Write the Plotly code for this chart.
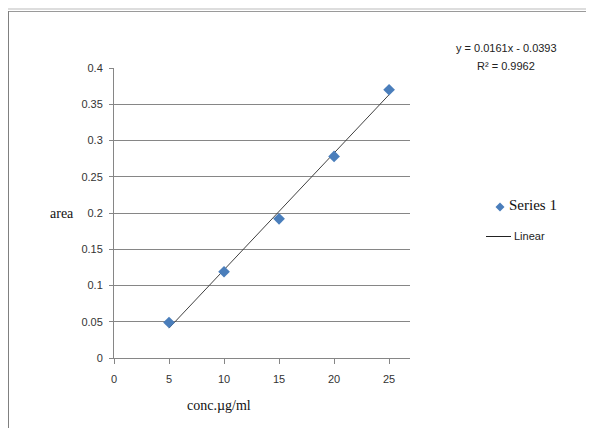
import plotly.graph_objects as go

# Data
conc = [5, 10, 15, 20, 25]
area = [0.049, 0.119, 0.192, 0.278, 0.370]
fit_slope = 0.0161
fit_intercept = -0.0393
x_ticks = [0, 5, 10, 15, 20, 25]
y_ticks = [0, 0.05, 0.1, 0.15, 0.2, 0.25, 0.3, 0.35, 0.4]
y_tick_text = ["0", "0.05", "0.1", "0.15", "0.2", "0.25", "0.3", "0.35", "0.4"]
equation_text = "y = 0.0161x - 0.0393"
r2_text = "R² = 0.9962"

OFF = 8  # page body margin
W, H = 594 - OFF, 428 - OFF
# plot area in page pixels
PL, PR, PT, PB = 114, 410, 68, 358
L, R, T, B = PL - OFF, PR - OFF, PT - OFF, PB - OFF


def px(x):
    return (x - PL) / (PR - PL)


def py(y):
    return (PB - y) / (PB - PT)


trend_x = [min(conc), max(conc)]
trend_y = [fit_slope * v + fit_intercept for v in trend_x]

fig = go.Figure()
fig.add_trace(go.Scatter(x=trend_x, y=trend_y, mode="lines",
                         line=dict(color="#404040", width=1), showlegend=False,
                         hoverinfo="skip"))
fig.add_trace(go.Scatter(x=conc, y=area, mode="markers",
                         marker=dict(symbol="diamond", size=9, color="#4A7EBB",
                                     line=dict(color="#4A7EBB", width=0)),
                         showlegend=False, cliponaxis=False))

tick_font = dict(family="Liberation Sans, Arial, sans-serif", size=11, color="#333333")
serif = dict(family="Liberation Serif, Times New Roman, serif", size=14, color="#111111")

fig.update_layout(
    width=W, height=H,
    margin=dict(l=L, r=W - R, t=T, b=H - B),
    paper_bgcolor="white", plot_bgcolor="white",
    xaxis=dict(range=[0, 26.9], tickvals=x_ticks, ticktext=[str(v) for v in x_ticks],
               showgrid=False, zeroline=False, showline=True, linecolor="#868686",
               linewidth=1, ticks="outside", ticklen=5, tickcolor="#868686",
               tickfont=tick_font, ticklabelstandoff=6, fixedrange=True),
    yaxis=dict(range=[0, 0.4], tickvals=y_ticks, ticktext=y_tick_text,
               showgrid=True, gridcolor="#868686", gridwidth=1, zeroline=False,
               showline=True, linecolor="#868686", linewidth=1, ticks="outside",
               ticklen=4, tickcolor="#868686", tickfont=tick_font,
               ticklabelstandoff=4, fixedrange=True),
    shapes=[
        dict(type="line", xref="paper", yref="paper", x0=px(8), x1=px(594), y0=py(9), y1=py(9),
             line=dict(color="#dddddd", width=2)),
        dict(type="line", xref="paper", yref="paper", x0=px(8), x1=px(594), y0=py(11.5), y1=py(11.5),
             line=dict(color="#9a9a9a", width=1)),
        dict(type="line", xref="paper", yref="paper", x0=px(8.5), x1=px(8.5), y0=py(11), y1=py(428),
             line=dict(color="#808080", width=1)),
        # legend entries
        dict(type="path", xref="paper", yref="paper",
             path=f"M {px(500)},{py(202.5)} L {px(504.5)},{py(207)} L {px(500)},{py(211.5)} L {px(495.5)},{py(207)} Z",
             fillcolor="#4A7EBB", line=dict(width=0)),
        dict(type="line", xref="paper", yref="paper", x0=px(486), x1=px(511), y0=py(236.5), y1=py(236.5),
             line=dict(color="#222222", width=1)),
    ],
    annotations=[
        dict(text="area", xref="paper", yref="paper", x=px(62), y=py(213), showarrow=False,
             xanchor="center", yanchor="middle", font=serif),
        dict(text="conc.µg/ml", xref="paper", yref="paper", x=px(219), y=py(405), showarrow=False,
             xanchor="center", yanchor="middle", font=serif),
        dict(text=equation_text, xref="paper", yref="paper", x=px(506), y=py(48), showarrow=False,
             xanchor="center", yanchor="middle", font=dict(family="Liberation Sans, Arial", size=11, color="#222222")),
        dict(text=r2_text, xref="paper", yref="paper", x=px(506), y=py(66), showarrow=False,
             xanchor="center", yanchor="middle", font=dict(family="Liberation Sans, Arial", size=11, color="#222222")),
        dict(text="Series 1", xref="paper", yref="paper", x=px(507), y=py(205), showarrow=False,
             xanchor="left", yanchor="middle", font=dict(family="Liberation Serif, Times New Roman, serif", size=15, color="#111111")),
        dict(text="Linear", xref="paper", yref="paper", x=px(512), y=py(236), showarrow=False,
             xanchor="left", yanchor="middle", font=dict(family="Liberation Sans, Arial", size=11, color="#222222")),
    ],
)

fig.write_html("out.html")
